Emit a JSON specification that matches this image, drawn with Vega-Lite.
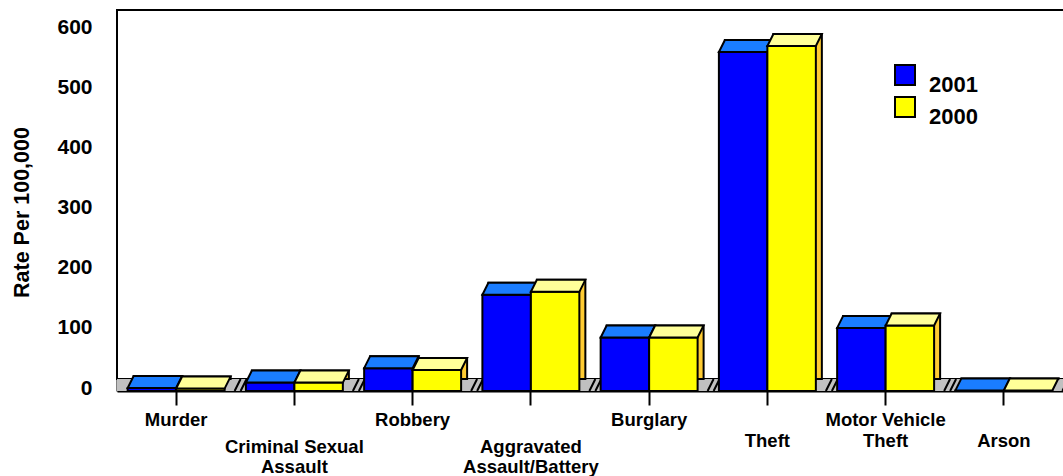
{
  "$schema": "https://vega.github.io/schema/vega-lite/v6.json",
  "width": 946,
  "height": 369,
  "autosize": {"type": "none"},
  "padding": {"left": 117, "top": 22, "right": 0, "bottom": 85},
  "background": "white",
  "config": {
    "view": {"stroke": null},
    "font": "Liberation Sans",
    "axis": {
      "labelFont": "Liberation Sans",
      "titleFont": "Liberation Sans",
      "labelFontWeight": "bold",
      "titleFontWeight": "bold",
      "labelColor": "black",
      "titleColor": "black",
      "domainColor": "black",
      "domainWidth": 2,
      "tickColor": "black",
      "tickWidth": 2,
      "grid": false,
      "zindex": 1
    },
    "axisX": {
      "title": null,
      "orient": "bottom",
      "labelFontSize": 18.5,
      "labelBaseline": "top",
      "labelOverlap": false,
      "labelBound": false,
      "labelLimit": 0,
      "labelAngle": 0
    }
  },
  "resolve": {"scale": {"xOffset": "independent"}, "axis": {"x": "independent"}},
  "datasets": {
    "rates": [
      {"crime": "Murder", "year": "2001", "rate": 5},
      {"crime": "Murder", "year": "2000", "rate": 4},
      {"crime": "Criminal Sexual Assault", "year": "2001", "rate": 14},
      {"crime": "Criminal Sexual Assault", "year": "2000", "rate": 14},
      {"crime": "Robbery", "year": "2001", "rate": 38},
      {"crime": "Robbery", "year": "2000", "rate": 35},
      {"crime": "Aggravated Assault/Battery", "year": "2001", "rate": 160},
      {"crime": "Aggravated Assault/Battery", "year": "2000", "rate": 165},
      {"crime": "Burglary", "year": "2001", "rate": 89},
      {"crime": "Burglary", "year": "2000", "rate": 89},
      {"crime": "Theft", "year": "2001", "rate": 564},
      {"crime": "Theft", "year": "2000", "rate": 574},
      {"crime": "Motor Vehicle Theft", "year": "2001", "rate": 105},
      {"crime": "Motor Vehicle Theft", "year": "2000", "rate": 109},
      {"crime": "Arson", "year": "2001", "rate": 1},
      {"crime": "Arson", "year": "2000", "rate": 1}
    ],
    "cats": [
      {"crime": "Murder"},
      {"crime": "Criminal Sexual Assault"},
      {"crime": "Robbery"},
      {"crime": "Aggravated Assault/Battery"},
      {"crime": "Burglary"},
      {"crime": "Theft"},
      {"crime": "Motor Vehicle Theft"},
      {"crime": "Arson"}
    ]
  },
  "data": {"name": "rates"},
  "layer": [
    {
      "data": {"values": [{}]},
      "mark": {"type": "rect", "fill": "white", "stroke": "black", "strokeWidth": 2, "xOffset": 6, "x2Offset": 6, "yOffset": -12, "y2Offset": -12},
      "encoding": {
        "y": {
          "datum": 614,
          "type": "quantitative",
          "scale": {"domain": [0, 614], "nice": false},
          "axis": {
            "title": "Rate Per 100,000",
            "values": [0, 100, 200, 300, 400, 500, 600],
            "ticks": false,
            "labelPadding": 25,
            "labelOffset": -3,
            "labelFontSize": 21,
            "titleFontSize": 21.5,
            "titleX": -89,
            "titleY": 190,
            "titleBaseline": "alphabetic",
            "titleAlign": "center"
          }
        },
        "y2": {"datum": 0}
      }
    },
    {
      "data": {"values": [{}]},
      "mark": {"type": "rect", "fill": "#c0c0c0", "y2Offset": -12},
      "encoding": {
        "y": {"datum": 0, "type": "quantitative"},
        "y2": {"datum": 0}
      }
    },
    {
      "data": {"name": "cats"},
      "mark": {"type": "point", "shape": "M10,0L16,-12M16,0L22,-12", "size": 4, "filled": false, "stroke": "black", "strokeWidth": 2, "opacity": 1},
      "encoding": {
        "x": {
          "field": "crime",
          "type": "nominal",
          "bandPosition": 1,
          "scale": {
            "domain": ["Murder", "Criminal Sexual Assault", "Robbery", "Aggravated Assault/Battery", "Burglary", "Theft", "Motor Vehicle Theft", "Arson"],
            "paddingInner": 0.18,
            "paddingOuter": 0.09
          },
          "axis": {
            "orient": "bottom",
            "tickSize": 14,
            "labelPadding": 5.5,
            "labelLineHeight": 21,
            "labelExpr": "datum.value == 'Motor Vehicle Theft' ? ['Motor Vehicle', 'Theft'] : (datum.value == 'Murder' || datum.value == 'Robbery' || datum.value == 'Burglary') ? datum.value : ''"
          }
        },
        "y": {"datum": 0, "type": "quantitative"}
      }
    },
    {
      "transform": [{"filter": "datum.year == '2001'"}],
      "mark": {"type": "bar", "fill": "#0000a0", "stroke": "black", "strokeWidth": 2, "yOffset": -12, "y2Offset": -12},
      "encoding": {
        "x": {
          "field": "crime",
          "type": "nominal",
          "axis": {
            "orient": "bottom",
            "domain": false,
            "ticks": false,
            "labelPadding": 40.5,
            "labelExpr": "(datum.value == 'Theft' || datum.value == 'Arson') ? datum.value : ''"
          }
        },
        "xOffset": {"field": "year", "type": "nominal", "scale": {"domain": ["2001", "2000"], "range": [6, 102.97]}},
        "y": {"field": "rate", "type": "quantitative"}
      }
    },
    {
      "transform": [{"filter": "datum.year == '2001'"}],
      "mark": {"type": "bar", "stroke": "black", "strokeWidth": 2},
      "encoding": {
        "x": {
          "field": "crime",
          "type": "nominal",
          "axis": {
            "orient": "bottom",
            "domain": false,
            "ticks": false,
            "labelPadding": 46.5,
            "labelLineHeight": 20,
            "labelExpr": "datum.value == 'Criminal Sexual Assault' ? ['Criminal Sexual', 'Assault'] : datum.value == 'Aggravated Assault/Battery' ? ['Aggravated', 'Assault/Battery'] : ''"
          }
        },
        "xOffset": {"field": "year", "type": "nominal", "scale": {"domain": ["2001", "2000"]}},
        "y": {"field": "rate", "type": "quantitative"},
        "color": {
          "field": "year",
          "type": "nominal",
          "scale": {"domain": ["2001", "2000"], "range": ["#0000ff", "#ffff00"]},
          "legend": {
            "title": null,
            "orient": "none",
            "legendX": 777,
            "legendY": 42,
            "padding": 0,
            "symbolType": "square",
            "symbolSize": 400,
            "symbolStrokeColor": "black",
            "symbolStrokeWidth": 2,
            "symbolOpacity": 1,
            "labelFont": "Liberation Sans",
            "labelFontWeight": "bold",
            "labelFontSize": 22,
            "labelColor": "black",
            "labelBaseline": "top",
            "labelOffset": 13,
            "rowPadding": -8
          }
        }
      }
    },
    {
      "transform": [{"filter": "datum.year == '2001'"}],
      "mark": {"type": "point", "shape": "M-24.24,0L24.24,0L30.24,-12L-18.24,-12Z", "size": 4, "filled": true, "fill": "#1a7dff", "stroke": "black", "strokeWidth": 2, "opacity": 1},
      "encoding": {
        "x": {"field": "crime", "type": "nominal", "axis": null},
        "xOffset": {"field": "year", "type": "nominal", "scale": {"domain": ["2001", "2000"]}},
        "y": {"field": "rate", "type": "quantitative"}
      }
    },
    {
      "transform": [{"filter": "datum.year == '2000'"}],
      "mark": {"type": "bar", "fill": "#ffcc33", "stroke": "black", "strokeWidth": 2, "yOffset": -12, "y2Offset": -12},
      "encoding": {
        "x": {"field": "crime", "type": "nominal", "axis": null},
        "xOffset": {"field": "year", "type": "nominal", "scale": {"domain": ["2001", "2000"], "range": [6, 102.97]}},
        "y": {"field": "rate", "type": "quantitative"}
      }
    },
    {
      "transform": [{"filter": "datum.year == '2000'"}],
      "mark": {"type": "bar", "stroke": "black", "strokeWidth": 2},
      "encoding": {
        "x": {"field": "crime", "type": "nominal", "axis": null},
        "xOffset": {"field": "year", "type": "nominal", "scale": {"domain": ["2001", "2000"]}},
        "y": {"field": "rate", "type": "quantitative"},
        "color": {"field": "year", "type": "nominal"}
      }
    },
    {
      "transform": [{"filter": "datum.year == '2000'"}],
      "mark": {"type": "point", "shape": "M-24.24,0L24.24,0L30.24,-12L-18.24,-12Z", "size": 4, "filled": true, "fill": "#ffff99", "stroke": "black", "strokeWidth": 2, "opacity": 1},
      "encoding": {
        "x": {"field": "crime", "type": "nominal", "axis": null},
        "xOffset": {"field": "year", "type": "nominal", "scale": {"domain": ["2001", "2000"]}},
        "y": {"field": "rate", "type": "quantitative"}
      }
    }
  ]
}
